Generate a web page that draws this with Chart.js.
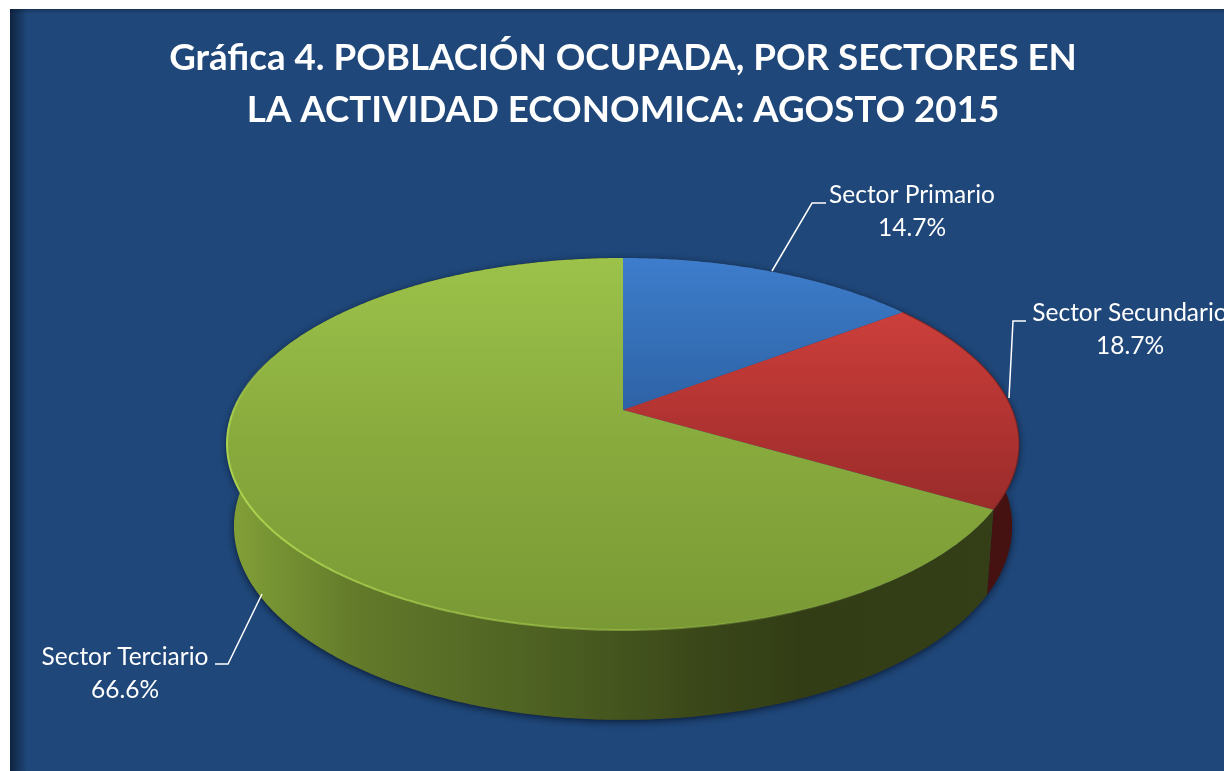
<!DOCTYPE html>
<html lang="es">
<head>
<meta charset="utf-8">
<title>Gráfica 4</title>
<script src="https://cdn.jsdelivr.net/npm/chart.js@4"></script>
<style>
    html, body { margin: 0; padding: 0; background: #fff; overflow: hidden; }
    canvas { display: block; }
</style>
</head>
<body>
<canvas id="chart" width="1224" height="771"></canvas>
<script>
const titleLines = ['Gráfica 4. POBLACIÓN OCUPADA, POR SECTORES EN', 'LA ACTIVIDAD ECONOMICA: AGOSTO 2015'];
const sectores   = ['Sector Primario', 'Sector Secundario', 'Sector Terciario'];
const valores    = [14.7, 18.7, 66.6];

const BG = '#1F4779';
const FONT = 'Lato, "Open Sans", sans-serif';

// perspective pie: top face and lower rim of the extruded disc
const CX = 623;
const PERSP = 0.1828;
const topFace = { b: 389.3, a: 179.8, cy: 410 };
const lowFace = { b: 382.5, a: 187, cy: 491 };

const sliceStyle = [
    { top: ['#3E7DCC', '#3570B8', '#2E62A6'], side: [[0, '#1d3a63'], [1, '#1d3a63']] },
    { top: ['#CC3F3B', '#B33432', '#992C2A'], side: [[0, '#421010'], [1, '#451111']] },
    { top: ['#9CC24A', '#88AA3D', '#7A9935'],
      side: [[0, '#83A139'], [0.08, '#728E31'], [0.17, '#62792A'], [0.42, '#4B5E21'], [0.6, '#3A4719'], [0.72, '#323D15'], [1, '#343F17']] },
];

// label text anchor + leader line for every slice
const labelLayout = [
    { x: 912,  y: 195, line: [[772, 271], [812, 203], [826, 203]] },
    { x: 1130, y: 313, line: [[1009, 398], [1013, 321], [1026, 321]] },
    { x: 125,  y: 657, line: [[262, 594], [228, 664], [215, 664]] },
];

function project(angle, face) {
    const u = Math.cos(angle), v = Math.sin(angle);
    const d = 1 - PERSP * v;
    return { x: CX + face.b * u / d, y: face.cy + face.a * v / d };
}

function rimPoints(start, end, face) {
    const n = Math.max(2, Math.ceil((end - start) / 0.01));
    const pts = [];
    for (let i = 0; i <= n; i++) pts.push(project(start + (end - start) * i / n, face));
    return pts;
}

function sidePath(ctx, start, end) {
    const a = rimPoints(start, end, topFace);
    const b = rimPoints(start, end, lowFace);
    ctx.beginPath();
    for (let i = 0; i < a.length - 1; i++) {
        ctx.moveTo(a[i].x, a[i].y);
        ctx.lineTo(a[i + 1].x, a[i + 1].y);
        ctx.lineTo(b[i + 1].x, b[i + 1].y);
        ctx.lineTo(b[i].x, b[i].y);
        ctx.closePath();
    }
}

function strokeRim(ctx, start, end) {
    ctx.beginPath();
    rimPoints(start, end, topFace).forEach((p, j) => j ? ctx.lineTo(p.x, p.y) : ctx.moveTo(p.x, p.y));
    ctx.stroke();
}

const backgroundPlugin = {
    id: 'fondo',
    beforeDraw(chart) {
        const ctx = chart.ctx;
        ctx.save();
        ctx.fillStyle = '#fff';
        ctx.fillRect(0, 0, 1224, 771);
        ctx.fillStyle = BG;
        ctx.fillRect(10, 9, 1214, 762);
        let g = ctx.createLinearGradient(10, 0, 27, 0);
        g.addColorStop(0, 'rgba(8,20,40,0.7)');
        g.addColorStop(1, 'rgba(8,20,40,0)');
        ctx.fillStyle = g;
        ctx.fillRect(10, 9, 17, 762);
        g = ctx.createLinearGradient(0, 9, 0, 14);
        g.addColorStop(0, 'rgba(8,20,40,0.35)');
        g.addColorStop(1, 'rgba(8,20,40,0)');
        ctx.fillStyle = g;
        ctx.fillRect(10, 9, 1214, 5);
        ctx.restore();
    },
};

const pie3dPlugin = {
    id: 'pie3d',
    afterDatasetsDraw(chart) {
        const ctx = chart.ctx;
        const arcs = chart.getDatasetMeta(0).data;
        ctx.save();

        // soft shadow under the whole disc
        ctx.save();
        ctx.shadowColor = 'rgba(5,15,35,0.75)';
        ctx.shadowBlur = 7;
        ctx.shadowOffsetY = 2;
        ctx.fillStyle = '#333';
        arcs.forEach(arc => {
            sidePath(ctx, arc.startAngle, arc.endAngle);
            ctx.fill();
        });
        ctx.restore();

        // side walls
        arcs.forEach((arc, i) => {
            const g = ctx.createLinearGradient(227, 0, 1020, 0);
            sliceStyle[i].side.forEach(s => g.addColorStop(s[0], s[1]));
            ctx.fillStyle = g;
            sidePath(ctx, arc.startAngle, arc.endAngle);
            ctx.fill();
        });

        // top face
        arcs.forEach((arc, i) => {
            const pts = rimPoints(arc.startAngle, arc.endAngle, topFace);
            const ys = pts.map(p => p.y).concat(topFace.cy);
            const g = ctx.createLinearGradient(0, Math.min(...ys), 0, Math.max(...ys));
            sliceStyle[i].top.forEach((c, j) => g.addColorStop(j / 2, c));
            ctx.fillStyle = g;
            ctx.beginPath();
            ctx.moveTo(CX, topFace.cy);
            pts.forEach(p => ctx.lineTo(p.x, p.y));
            ctx.closePath();
            ctx.fill();
        });

        // bevel along the rim: faint on red, bright on the front of green
        ctx.lineWidth = 1.5;
        ctx.strokeStyle = 'rgba(120,35,33,0.55)';
        strokeRim(ctx, arcs[1].startAngle, arcs[1].endAngle);
        const bevel = ctx.createLinearGradient(227, 0, 900, 0);
        bevel.addColorStop(0, 'rgba(176,214,80,0.95)');
        bevel.addColorStop(0.6, 'rgba(160,196,72,0.55)');
        bevel.addColorStop(1, 'rgba(160,196,72,0)');
        ctx.lineWidth = 2;
        ctx.strokeStyle = bevel;
        strokeRim(ctx, arcs[2].startAngle, Math.PI * 0.98);
        // fades out towards the back of the disc
        for (let k = 0; k < 10; k++) {
            ctx.globalAlpha = 1 - k / 10;
            strokeRim(ctx, Math.PI * (0.98 + k * 0.012), Math.PI * (0.98 + (k + 1) * 0.012));
        }
        ctx.globalAlpha = 1;

        // leader lines and labels
        ctx.strokeStyle = '#fff';
        ctx.lineWidth = 1.5;
        ctx.fillStyle = '#fff';
        ctx.textAlign = 'center';
        ctx.textBaseline = 'middle';
        ctx.font = '24.5px ' + FONT;
        labelLayout.forEach((l, i) => {
            ctx.beginPath();
            l.line.forEach((p, j) => j ? ctx.lineTo(p[0], p[1]) : ctx.moveTo(p[0], p[1]));
            ctx.stroke();
            ctx.fillText(sectores[i], l.x, l.y);
            ctx.fillText(valores[i].toFixed(1) + '%', l.x, l.y + 33);
        });
        ctx.restore();
    },
};

new Chart(document.getElementById('chart').getContext('2d'), {
    type: 'pie',
    data: {
        labels: sectores,
        datasets: [{
            data: valores,
            backgroundColor: 'transparent',
            borderWidth: 0,
        }],
    },
    options: {
        responsive: false,
        animation: false,
        layout: { padding: { left: 22, top: 32 } },
        plugins: {
            legend: { display: false },
            tooltip: { enabled: false },
            title: {
                display: true,
                text: titleLines,
                color: '#fff',
                font: { family: FONT, size: 36.7, weight: 'bold', lineHeight: 1.42 },
                padding: 0,
            },
        },
    },
    plugins: [backgroundPlugin, pie3dPlugin],
});
</script>
</body>
</html>
